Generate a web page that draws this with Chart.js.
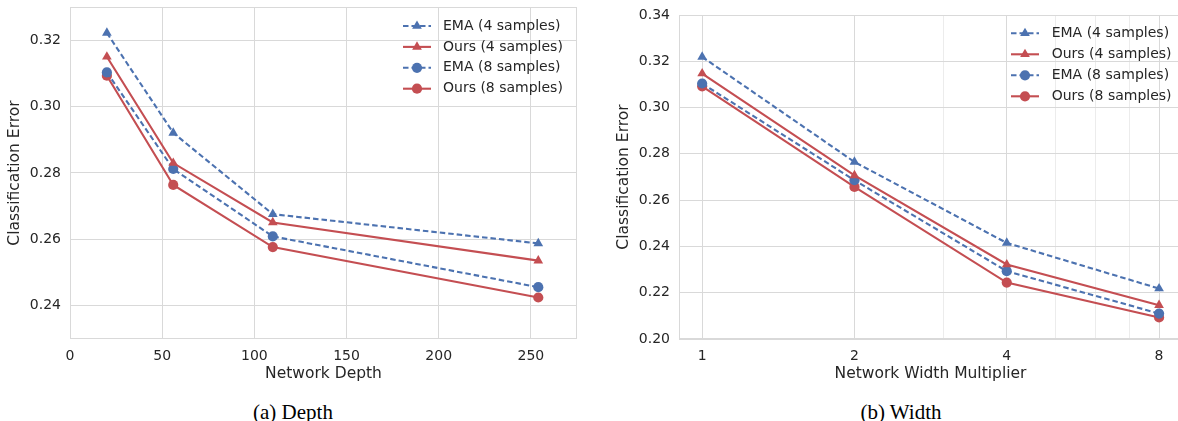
<!DOCTYPE html>
<html>
<head>
<meta charset="utf-8">
<script src="https://cdn.jsdelivr.net/npm/chart.js@4.4.1/dist/chart.umd.min.js"></script>
<style>
  html, body { margin: 0; padding: 0; background: #fff; overflow: hidden; }
  body { width: 1178px; height: 421px; position: relative; }
  canvas { position: absolute; top: 0; }
  #depthChart { left: 0; }
  #widthChart { left: 590px; }
  .caption {
    position: absolute; top: 400px; line-height: 24px;
    font-family: "Liberation Serif", "DejaVu Serif", serif; font-size: 21px; color: #000;
    transform: translateX(-50%); white-space: nowrap;
  }
</style>
</head>
<body>
<canvas id="depthChart" width="590" height="390"></canvas>
<canvas id="widthChart" width="600" height="390"></canvas>
<div class="caption" style="left:293px">(a) Depth</div>
<div class="caption" style="left:901px">(b) Width</div>
<script>
// x values
const depths = [20, 56, 110, 254];
const widths = [1, 2, 4, 8];

// classification error vs depth
const emaDepth4 = [0.3222, 0.2921, 0.2676, 0.2588];
const oursDepth4 = [0.3150, 0.2830, 0.2651, 0.2536];
const emaDepth8 = [0.3103, 0.2812, 0.2609, 0.2456];
const oursDepth8 = [0.3093, 0.2764, 0.2577, 0.2425];

// classification error vs width multiplier
const emaWidth4 = [0.3219, 0.2765, 0.2415, 0.2218];
const oursWidth4 = [0.3147, 0.2707, 0.2322, 0.2146];
const emaWidth8 = [0.3104, 0.2686, 0.2293, 0.2110];
const oursWidth8 = [0.3092, 0.2657, 0.2244, 0.2093];

const seriesLabels = ['EMA (4 samples)', 'Ours (4 samples)', 'EMA (8 samples)', 'Ours (8 samples)'];

// tick labels
const depthTicks = [0, 50, 100, 150, 200, 250];
const depthErrTicks = [0.24, 0.26, 0.28, 0.30, 0.32];
const widthTicks = [1, 2, 4, 8];
const widthMinorTicks = [3, 5, 6, 7];
const widthErrTicks = [0.20, 0.22, 0.24, 0.26, 0.28, 0.30, 0.32, 0.34];

const BLUE = '#4C72B0';
const RED = '#C44E52';
const GRID = '#d9d9d9';
const MINOR_GRID = '#ececec';
const TEXT = '#262626';
const FONT = '"DejaVu Sans", Verdana, sans-serif';

function makeDatasets(xs, series) {
    return series.map((ys, i) => {
        const isEma = i % 2 === 0;
        const color = isEma ? BLUE : RED;
        const tri = i < 2;
        return {
            label: seriesLabels[i],
            data: xs.map((x, j) => ({ x: x, y: ys[j] })),
            borderColor: color,
            backgroundColor: color,
            pointBackgroundColor: color,
            pointBorderColor: color,
            borderWidth: 2.1,
            borderDash: isEma ? [5.5, 3] : [],
            pointStyle: tri ? 'triangle' : 'circle',
            pointRadius: tri ? 5.6 : 5.1,
            pointBorderWidth: 0,
            tension: 0,
            fill: false
        };
    });
}

// light gray box around the plot area, like the seaborn spines
const framePlugin = {
    id: 'frame',
    beforeDatasetsDraw(chart) {
        const { ctx, chartArea: a } = chart;
        ctx.save();
        ctx.strokeStyle = GRID;
        ctx.lineWidth = 1;
        ctx.strokeRect(Math.round(a.left) + 0.5, Math.round(a.top) + 0.5,
            Math.round(a.right - a.left) - 1, Math.round(a.bottom - a.top) - 1);
        ctx.restore();
    }
};

function drawMarker(ctx, style, r, x, y) {
    ctx.beginPath();
    if (style === 'triangle') {
        for (let k = 0; k < 3; k++) {
            const rad = k * 2 * Math.PI / 3;
            const px = x + Math.sin(rad) * r, py = y - Math.cos(rad) * r;
            if (k === 0) ctx.moveTo(px, py); else ctx.lineTo(px, py);
        }
        ctx.closePath();
    } else {
        ctx.arc(x, y, r, 0, Math.PI * 2);
    }
    ctx.fill();
}

// matplotlib-style legend: line + marker handle, then label
const legendPlugin = {
    id: 'mplLegend',
    afterDatasetsDraw(chart, args, opts) {
        const { ctx, chartArea } = chart;
        const x0 = chartArea.right - opts.dx;
        chart.data.datasets.forEach((ds, i) => {
            const y = chartArea.top + opts.dy + i * opts.gap;
            ctx.save();
            ctx.strokeStyle = ds.borderColor;
            ctx.lineWidth = ds.borderWidth;
            ctx.setLineDash(ds.borderDash);
            ctx.beginPath();
            ctx.moveTo(x0, y);
            ctx.lineTo(x0 + 28, y);
            ctx.stroke();
            ctx.setLineDash([]);
            ctx.fillStyle = ds.pointBackgroundColor;
            drawMarker(ctx, ds.pointStyle, ds.pointRadius, x0 + 14, y);
            ctx.fillStyle = TEXT;
            ctx.font = '14px ' + FONT;
            ctx.textBaseline = 'middle';
            ctx.textAlign = 'left';
            ctx.fillText(ds.label, x0 + opts.textOffset, y);
            ctx.restore();
        });
    }
};

function setTicks(values) {
    return scale => { scale.ticks = values.map(v => ({ value: v })); };
}

// fixed axis box size, and no extra label overhang padding
function fixSize(prop, size) {
    return s => {
        s[prop] = size;
        s.paddingTop = 0; s.paddingBottom = 0;
        s.paddingLeft = 0; s.paddingRight = 0;
    };
}

function yAxis(min, max, ticks, axisWidth, titlePad) {
    return {
        type: 'linear',
        min: min,
        max: max,
        afterBuildTicks: setTicks(ticks),
        afterFit: fixSize('width', axisWidth),
        border: { display: false },
        grid: { color: GRID, lineWidth: 1, drawTicks: false },
        ticks: {
            padding: 9,
            color: TEXT,
            font: { family: FONT, size: 14 },
            callback: v => v.toFixed(2)
        },
        title: {
            display: true,
            text: 'Classification Error',
            color: TEXT,
            font: { family: FONT, size: 15.5 },
            padding: { top: titlePad, bottom: 0 }
        }
    };
}

function xTitle(text) {
    return {
        display: true,
        text: text,
        color: TEXT,
        font: { family: FONT, size: 15.5 },
        padding: { top: 0, bottom: 6.4 }
    };
}

const baseOptions = {
    responsive: false,
    animation: false,
    events: [],
    plugins: { legend: { display: false }, tooltip: { enabled: false } }
};

new Chart(document.getElementById('depthChart'), {
    type: 'line',
    data: { datasets: makeDatasets(depths, [emaDepth4, oursDepth4, emaDepth8, oursDepth8]) },
    plugins: [framePlugin, legendPlugin],
    options: {
        ...baseOptions,
        layout: { padding: { top: 7, right: 13, left: 0, bottom: 0 } },
        plugins: { ...baseOptions.plugins, mplLegend: { dx: 174, dy: 19, gap: 20.9, textOffset: 40 } },
        scales: {
            x: {
                type: 'linear',
                min: 0,
                max: 275,
                afterBuildTicks: setTicks(depthTicks),
                afterFit: fixSize('height', 51),
                border: { display: false },
                grid: { color: GRID, lineWidth: 1, drawTicks: false },
                ticks: { padding: 8.5, color: TEXT, font: { family: FONT, size: 14 }, maxRotation: 0, autoSkip: false },
                title: xTitle('Network Depth')
            },
            y: yAxis(0.23, 0.33, depthErrTicks, 70, 5.5)
        }
    }
});

new Chart(document.getElementById('widthChart'), {
    type: 'line',
    data: { datasets: makeDatasets(widths, [emaWidth4, oursWidth4, emaWidth8, oursWidth8]) },
    plugins: [framePlugin, legendPlugin],
    options: {
        ...baseOptions,
        layout: { padding: { top: 15, right: 8, left: 0, bottom: 0 } },
        plugins: { ...baseOptions.plugins, mplLegend: { dx: 171, dy: 18.3, gap: 21, textOffset: 40.7 } },
        scales: {
            x: {
                type: 'logarithmic',
                min: 0.9,
                max: 8.88,
                afterBuildTicks: setTicks(widthTicks.concat(widthMinorTicks).sort((a, b) => a - b)),
                afterFit: fixSize('height', 51),
                border: { display: false },
                grid: {
                    color: c => (c.tick && widthMinorTicks.includes(c.tick.value)) ? MINOR_GRID : GRID,
                    lineWidth: 1,
                    drawTicks: false
                },
                ticks: {
                    padding: 8.5, color: TEXT, font: { family: FONT, size: 14 }, maxRotation: 0, autoSkip: false,
                    callback: v => widthTicks.includes(v) ? String(v) : ''
                },
                title: xTitle('Network Width Multiplier')
            },
            y: yAxis(0.20, 0.34, widthErrTicks, 89, 24.5)
        }
    }
});
</script>
</body>
</html>
